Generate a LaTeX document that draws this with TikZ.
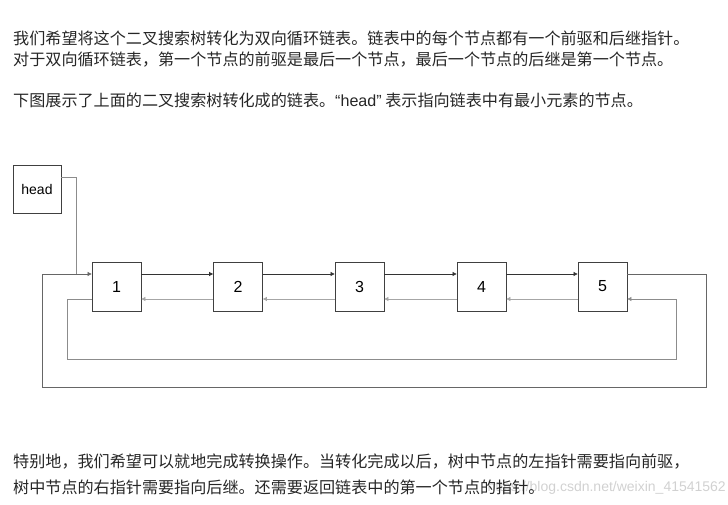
\documentclass[tikz,border=0pt]{standalone}
\usepackage{fontspec}
\setmainfont{Noto Sans CJK SC}
\newfontfamily\labfont{Liberation Sans}
\usetikzlibrary{arrows.meta, positioning, calc}

\begin{document}
\begin{tikzpicture}[
    x=1pt, y=-1pt,
    box/.style={rectangle, draw=black!75, line width=0.8pt, minimum size=49pt, inner sep=0pt, font=\labfont\fontsize{16}{16}\selectfont},
    para/.style={anchor=west, inner sep=0pt, text=black!85, font=\fontsize{16.1}{17}\selectfont},
    fwd/.style={-{Triangle[length=4pt, width=4pt]}, black!80, line width=0.7pt},
    back/.style={-{Triangle[length=4pt, width=4pt]}, black!35, line width=0.7pt},
]
    \useasboundingbox (0,0) rectangle (728,505);

    % Text above the diagram
    \node[para] (t1) at (13,38) {我们希望将这个二叉搜索树转化为双向循环链表。链表中的每个节点都有一个前驱和后继指针。};
    \node[para] (t2) at (13,60) {对于双向循环链表，第一个节点的前驱是最后一个节点，最后一个节点的后继是第一个节点。};
    \node[para] (t3) at (13,100) {下图展示了上面的二叉搜索树转化成的链表。{\labfont “head”} 表示指向链表中有最小元素的节点。};

    % List nodes
    \node[box, font=\labfont\fontsize{14}{14}\selectfont, minimum size=48pt] (head) at (37,189) {head};
    \foreach \x/\label in {116.5/1, 238/2, 359.5/3, 481.5/4, 602.5/5}
    {
        \node[box] (n\label) at (\x,286.5) {\label};
    }

    % Next and previous pointers
    \foreach \a/\b in {1/2, 2/3, 3/4, 4/5}
    {
        \draw[fwd] ([yshift=12.5pt]n\a.east) -- ([yshift=12.5pt]n\b.west);
        \draw[back] ([yshift=-12.5pt]n\b.west) -- ([yshift=-12.5pt]n\a.east);
    }

    % Head pointer
    \draw[black!45, line width=0.7pt] ([yshift=12pt]head.east) -| ([xshift=-15pt, yshift=12.5pt]n1.west);

    % Last -> first (outer loop)
    \draw[fwd, black!60] ([yshift=12.5pt]n5.east) -- ++(79,0) -- ++(0,113)
        -| ([xshift=-49pt, yshift=12.5pt]n1.west) -- ([yshift=12.5pt]n1.west);

    % First -> last (inner loop)
    \draw[back, black!45] ([yshift=-12.5pt]n1.west) -- ++(-24,0) -- ++(0,60)
        -| ([xshift=49pt, yshift=-12.5pt]n5.east) -- ([yshift=-12.5pt]n5.east);

    % Watermark
    \node[anchor=east, inner sep=0pt, text=black!18, font=\labfont\fontsize{14}{14}\selectfont] (wm) at (726,488) {https://blog.csdn.net/weixin\_41541562};

    % Text below the diagram
    \node[para] (t4) at (13,462) {特别地，我们希望可以就地完成转换操作。当转化完成以后，树中节点的左指针需要指向前驱，};
    \node[para] (t5) at (13,487) {树中节点的右指针需要指向后继。还需要返回链表中的第一个节点的指针。};
\end{tikzpicture}
\end{document}
